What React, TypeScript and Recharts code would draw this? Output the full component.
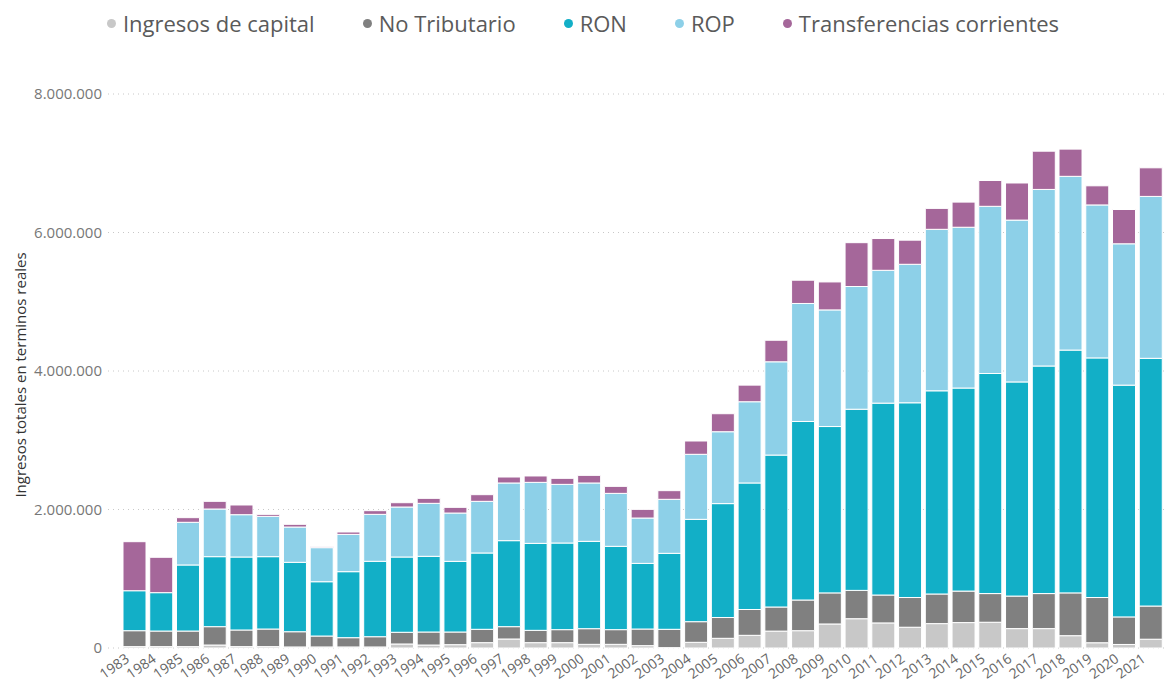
import { BarChart, Bar, XAxis, YAxis, CartesianGrid } from "recharts";

const years = [
  "1983", "1984", "1985", "1986", "1987", "1988", "1989", "1990", "1991", "1992",
  "1993", "1994", "1995", "1996", "1997", "1998", "1999", "2000", "2001", "2002",
  "2003", "2004", "2005", "2006", "2007", "2008", "2009", "2010", "2011", "2012",
  "2013", "2014", "2015", "2016", "2017", "2018", "2019", "2020", "2021",
];

// values
const ingresosCapital = [
  20000, 20000, 20000, 43000, 20000, 20000, 15000, 15000, 15000, 15000,
  58000, 43000, 48000, 77000, 130000, 77000, 77000, 53000, 53000, 34000,
  5000, 82000, 140000, 183000, 244000, 250000, 347000, 423000, 362000, 300000,
  352000, 367000, 372000, 280000, 280000, 178000, 76000, 51000, 127000,
];
const noTributario = [
  230000, 225000, 225000, 265000, 240000, 254000, 220000, 158000, 134000, 148000,
  169000, 188000, 183000, 193000, 178000, 178000, 188000, 226000, 212000, 240000,
  265000, 298000, 300000, 373000, 348000, 443000, 449000, 409000, 403000, 429000,
  428000, 455000, 414000, 470000, 506000, 618000, 653000, 398000, 479000,
];
const ron = [
  577000, 554000, 954000, 1011000, 1054000, 1045000, 1002000, 784000, 953000, 1089000,
  1087000, 1093000, 1020000, 1102000, 1242000, 1256000, 1251000, 1261000, 1203000, 948000,
  1097000, 1478000, 1645000, 1827000, 2194000, 2578000, 2402000, 2616000, 2771000, 2812000,
  2934000, 2932000, 3178000, 3092000, 3286000, 3506000, 3460000, 3347000, 3577000,
];
const rop = [
  0, 0, 616000, 688000, 611000, 582000, 510000, 492000, 539000, 678000,
  722000, 765000, 698000, 746000, 833000, 881000, 847000, 843000, 765000, 655000,
  780000, 939000, 1038000, 1173000, 1347000, 1704000, 1684000, 1772000, 1918000, 2000000,
  2332000, 2322000, 2414000, 2337000, 2550000, 2509000, 2209000, 2041000, 2338000,
];
const transferencias = [
  708000, 511000, 67000, 111000, 140000, 29000, 39000, 14000, 34000, 53000,
  62000, 72000, 82000, 96000, 86000, 92000, 87000, 110000, 101000, 125000,
  125000, 192000, 260000, 240000, 311000, 336000, 404000, 633000, 459000, 348000,
  302000, 363000, 373000, 536000, 552000, 393000, 276000, 495000, 413000,
];

const yTicks = [0, 2000000, 4000000, 6000000, 8000000];

const series = [
  { key: "capital", name: "Ingresos de capital", color: "#C8C8C8" },
  { key: "noTributario", name: "No Tributario", color: "#808080" },
  { key: "ron", name: "RON", color: "#12AFC7" },
  { key: "rop", name: "ROP", color: "#8DD0E8" },
  { key: "transferencias", name: "Transferencias corrientes", color: "#A5679A" },
];

const data = years.map((year, i) => ({
  year,
  capital: ingresosCapital[i],
  noTributario: noTributario[i],
  ron: ron[i],
  rop: rop[i],
  transferencias: transferencias[i],
}));

const FONT = "'Open Sans', sans-serif";

const fmt = (v: number) => String(v).replace(/\B(?=(\d{3})+(?!\d))/g, ".");

function YearTick({ x, y, payload }: any) {
  const ax = x - 4;
  const ay = y + 5;
  return (
    <text
      x={ax}
      y={ay}
      transform={`rotate(-35, ${ax}, ${ay})`}
      textAnchor="end"
      fill="#666"
      fontSize={14}
      fontFamily={FONT}
    >
      {payload.value}
    </text>
  );
}

function YLabel({ viewBox }: any) {
  const cy = viewBox.y + viewBox.height / 2 + 4;
  return (
    <text
      x={20}
      y={cy}
      transform={`rotate(-90, 20, ${cy})`}
      textAnchor="middle"
      dominantBaseline="central"
      fill="#333"
      fontSize={15}
      fontFamily={FONT}
    >
      Ingresos totales en terminos reales
    </text>
  );
}

export default function App() {
  return (
    <div style={{ position: "absolute", top: 0, left: 0, width: 1166, height: 682, background: "#fff" }}>
      <div
        style={{
          position: "absolute",
          top: 8,
          left: 0,
          width: 1166,
          display: "flex",
          justifyContent: "center",
          gap: 48,
          fontFamily: FONT,
          fontSize: 22,
          color: "#5a5a5a",
        }}
      >
        {series.map((s) => (
          <div key={s.key} style={{ display: "flex", alignItems: "center" }}>
            <span
              style={{ width: 9, height: 9, borderRadius: "50%", background: s.color, marginRight: 7 }}
            />
            {s.name}
          </div>
        ))}
      </div>
      <BarChart width={1166} height={682} data={data} margin={{ top: 94, right: 2, left: 0, bottom: 0 }}>
        <CartesianGrid vertical={false} stroke="#c8c8c8" strokeDasharray="1 4" />
        <XAxis
          dataKey="year"
          interval={0}
          height={34}
          axisLine={false}
          tickLine={false}
          padding={{ left: 13, right: 0 }}
          tick={<YearTick />}
        />
        <YAxis
          width={108}
          domain={[0, 8000000]}
          ticks={yTicks}
          axisLine={false}
          tickLine={false}
          tickMargin={0}
          tickFormatter={fmt}
          tick={{ fill: "#777", fontSize: 15, fontFamily: FONT }}
          label={<YLabel />}
        />
        {series.map((s) => (
          <Bar
            key={s.key}
            dataKey={s.key}
            name={s.name}
            stackId="a"
            fill={s.color}
            stroke="#fff"
            strokeWidth={1}
            barSize={23}
            isAnimationActive={false}
          />
        ))}
      </BarChart>
    </div>
  );
}
